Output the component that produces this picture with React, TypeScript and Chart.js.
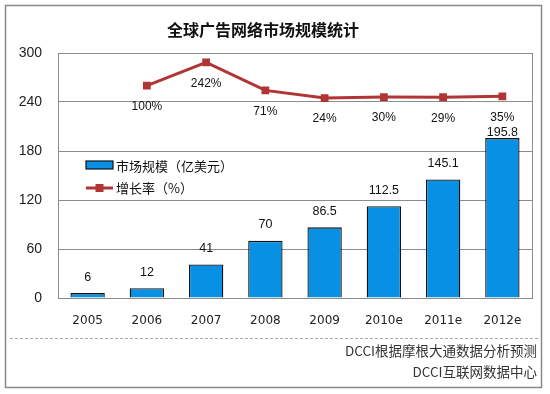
import React, { useEffect, useRef } from "react";
import { Chart, registerables } from "chart.js";

Chart.register(...registerables);

const categories = ["2005", "2006", "2007", "2008", "2009", "2010e", "2011e", "2012e"];
const marketSize = [6, 12, 41, 70, 86.5, 112.5, 145.1, 195.8];
const marketLabels = ["6", "12", "41", "70", "86.5", "112.5", "145.1", "195.8"];
const growthRate: (number | null)[] = [null, 100, 242, 71, 24, 30, 29, 35];
const yTicks = [0, 60, 120, 180, 240, 300];
const title = "全球广告网络市场规模统计";
const seriesNames = ["市场规模（亿美元）", "增长率（%）"];
const footer = ["DCCI根据摩根大通数据分析预测", "DCCI互联网数据中心"];

const BAR_COLOR = "#0890E4";
const LINE_COLOR = "#B23535";

const decorPlugin = {
  id: "decor",
  beforeDraw(chart: any) {
    const ctx = chart.ctx;
    ctx.save();
    ctx.fillStyle = "#fff";
    ctx.fillRect(0, 0, chart.width, chart.height);
    ctx.restore();
  },
  afterDatasetsDraw(chart: any) {
    const ctx = chart.ctx;
    const ca = chart.chartArea;
    ctx.save();
    // plot border
    ctx.strokeStyle = "#8c8c8c";
    ctx.lineWidth = 1;
    ctx.strokeRect(Math.round(ca.left) + 0.5, Math.round(ca.top) + 0.5, Math.round(ca.right - ca.left), Math.round(ca.bottom - ca.top));

    // outer frame
    ctx.strokeStyle = "#8a8a8a";
    ctx.lineWidth = 1.5;
    ctx.strokeRect(5.5, 5.5, 536, 382);

    // title
    ctx.fillStyle = "#111";
    ctx.font = "bold 16px 'Noto Sans CJK SC'";
    ctx.textAlign = "center";
    ctx.textBaseline = "middle";
    ctx.fillText(title, 263, 30);

    const barMeta = chart.getDatasetMeta(0);
    const lineMeta = chart.getDatasetMeta(1);

    // line labels
    ctx.font = "12px 'Liberation Sans'";
    ctx.fillStyle = "#111";
    const lineLabelY: (number | null)[] = [];
    lineMeta.data.forEach((pt: any, i: number) => {
      const v = growthRate[i];
      if (v == null || pt.skip) {
        lineLabelY.push(null);
        return;
      }
      const y = pt.y + 21;
      lineLabelY.push(y);
      ctx.fillText(v + "%", pt.x, y);
    });

    // bar labels
    ctx.font = "12.5px 'Liberation Sans'";
    barMeta.data.forEach((bar: any, i: number) => {
      let y = bar.y - 16;
      const ly = lineLabelY[i];
      if (ly != null) y = Math.max(y, ly + 15);
      ctx.fillText(marketLabels[i], bar.x, y);
    });

    // legend
    const lx = 86;
    ctx.fillStyle = BAR_COLOR;
    ctx.strokeStyle = "#111";
    ctx.lineWidth = 1.2;
    ctx.fillRect(lx, 161, 27, 8);
    ctx.strokeRect(lx, 161, 27, 8);
    ctx.strokeStyle = LINE_COLOR;
    ctx.lineWidth = 3;
    ctx.beginPath();
    ctx.moveTo(lx, 188);
    ctx.lineTo(lx + 27, 188);
    ctx.stroke();
    ctx.fillStyle = LINE_COLOR;
    ctx.fillRect(lx + 13.5 - 4, 184, 8, 8);
    ctx.fillStyle = "#111";
    ctx.font = "13px 'Noto Sans CJK SC'";
    ctx.textAlign = "left";
    ctx.fillText(seriesNames[0], 116, 166);
    ctx.fillText(seriesNames[1], 116, 188);

    // footer
    ctx.strokeStyle = "#a8a8a8";
    ctx.lineWidth = 1;
    ctx.setLineDash([3, 2]);
    ctx.beginPath();
    ctx.moveTo(10, 338.5);
    ctx.lineTo(538, 338.5);
    ctx.stroke();
    ctx.setLineDash([]);
    ctx.fillStyle = "#333";
    ctx.font = "13.5px 'Noto Sans CJK SC'";
    ctx.textAlign = "right";
    ctx.fillText(footer[0], 537, 351);
    ctx.fillText(footer[1], 537, 372);
    ctx.restore();
  },
};

export default function App() {
  const ref = useRef<HTMLCanvasElement | null>(null);
  useEffect(() => {
    document.body.style.margin = "0";
    document.body.style.background = "#fff";
    const chart = new Chart(ref.current!, {
      type: "bar",
      data: {
        labels: categories,
        datasets: [
          {
            type: "bar",
            label: seriesNames[0],
            data: marketSize,
            backgroundColor: BAR_COLOR,
            borderColor: "#111",
            borderWidth: 1.3,
            categoryPercentage: 1,
            barPercentage: 0.58,
            yAxisID: "y",
            order: 1,
          },
          {
            type: "line",
            label: seriesNames[1],
            data: growthRate,
            borderColor: LINE_COLOR,
            backgroundColor: LINE_COLOR,
            borderWidth: 3,
            pointStyle: "rect",
            pointRadius: 5.5,
            pointBorderWidth: 0,
            spanGaps: false,
            yAxisID: "y1",
            order: 0,
          } as any,
        ],
      },
      options: {
        responsive: false,
        animation: false,
        events: [],
        layout: { padding: { left: 8, right: 18, top: 53, bottom: 56 } },
        plugins: { legend: { display: false }, tooltip: { enabled: false }, title: { display: false } },
        scales: {
          x: {
            grid: { display: false, drawTicks: false },
            border: { display: true, color: "#8c8c8c" },
            ticks: { color: "#222", font: { family: "DejaVu Sans", size: 12 }, padding: 16, maxRotation: 0 },
            afterFit: (s: any) => {
              s.height = 40;
            },
          },
          y: {
            min: 0,
            max: 300,
            afterBuildTicks: (s: any) => {
              s.ticks = yTicks.map((v) => ({ value: v }));
            },
            grid: { color: "#8c8c8c", drawTicks: false, lineWidth: 1 },
            border: { display: true, color: "#8c8c8c" },
            ticks: { color: "#222", font: { family: "Liberation Sans", size: 14 }, padding: 16 },
            afterFit: (s: any) => {
              s.width = 50;
            },
          },
          y1: {
            display: false,
            min: -1200,
            max: 300,
            position: "right",
          },
        },
      },
      plugins: [decorPlugin],
    });
    return () => chart.destroy();
  }, []);
  return <canvas ref={ref} width={550} height={394} style={{ display: "block" }} />;
}
